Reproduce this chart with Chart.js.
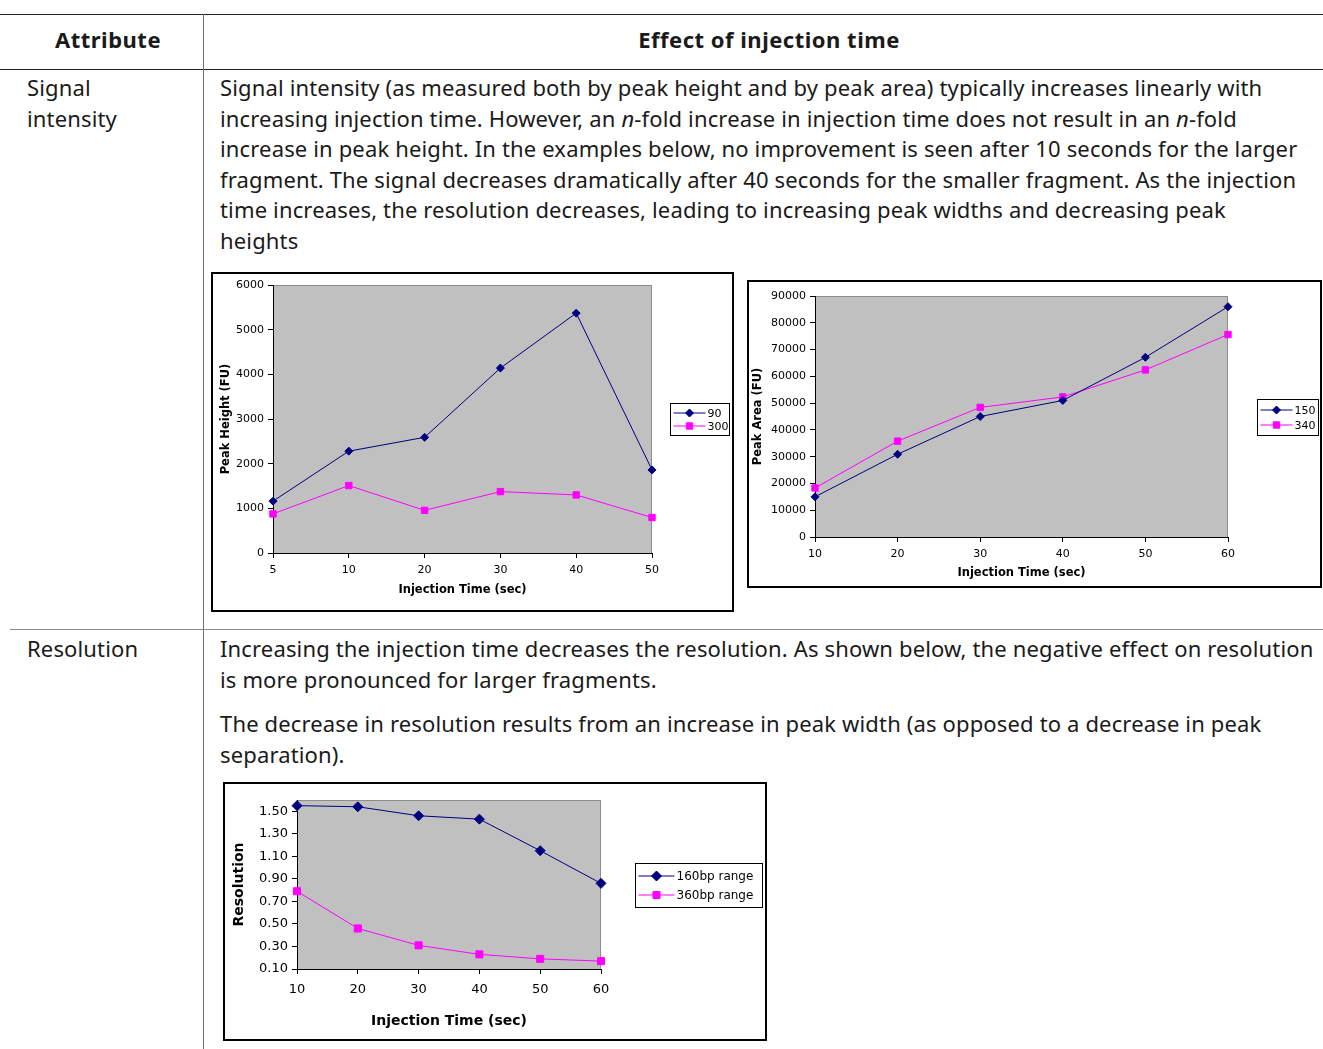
<!DOCTYPE html>
<html>
<head>
<meta charset="utf-8">
<script src="https://cdn.jsdelivr.net/npm/chart.js@4.4.1/dist/chart.umd.min.js"></script>
<style>
  body { margin: 0; width: 1323px; height: 1049px; background: #fff; overflow: hidden; position: relative;
         font-family: "Noto Sans", Roboto, sans-serif; color: #1a1a1a; }
  .hline { position: absolute; height: 1px; }
  .vline { position: absolute; width: 1px; background: #707070; }
  .txt { position: absolute; font-size: 22px; line-height: 30.6px; letter-spacing: 0.15px; white-space: nowrap; }
  .head { position: absolute; top: 24px; font-size: 22px; font-weight: bold; text-align: center; white-space: nowrap; letter-spacing: 0.5px; }
  .box { position: absolute; border: 2px solid #000; background: #fff; }
  .box canvas { display: block; }
</style>
</head>
<body>

<!-- table rules -->
<div class="hline" style="left:0;top:14px;width:1323px;background:#222"></div>
<div class="hline" style="left:0;top:69px;width:1323px;background:#222"></div>
<div class="hline" style="left:10px;top:629px;width:1313px;background:#8a8a8a"></div>
<div class="vline" style="left:203px;top:14px;height:1035px"></div>

<div class="head" style="left:8px;width:200px">Attribute</div>
<div class="head" style="left:215px;width:1108px">Effect of injection time</div>

<div class="txt" style="left:27px;top:72px">Signal<br>intensity</div>
<div class="txt" style="left:220px;top:72px">
Signal intensity (as measured both by peak height and by peak area) typically increases linearly with<br>
increasing injection time. However, an <i>n</i>-fold increase in injection time does not result in an <i>n</i>-fold<br>
increase in peak height. In the examples below, no improvement is seen after 10 seconds for the larger<br>
fragment. The signal decreases dramatically after 40 seconds for the smaller fragment. As the injection<br>
time increases, the resolution decreases, leading to increasing peak widths and decreasing peak<br>
heights</div>

<div class="txt" style="left:27px;top:633px">Resolution</div>
<div class="txt" style="left:220px;top:633px">
Increasing the injection time decreases the resolution. As shown below, the negative effect on resolution<br>
is more pronounced for larger fragments.</div>
<div class="txt" style="left:220px;top:708px">
The decrease in resolution results from an increase in peak width (as opposed to a decrease in peak<br>
separation).</div>

<div class="box" style="left:211px;top:272px"><canvas id="heightChart" width="519" height="336"></canvas></div>
<div class="box" style="left:747px;top:280px"><canvas id="areaChart" width="571" height="304"></canvas></div>
<div class="box" style="left:223px;top:782px"><canvas id="resChart" width="540" height="255"></canvas></div>

<script>
//----------------- chart data -------------------------

const heightTimes = ['5', '10', '20', '30', '40', '50'];
const height90 = [1160, 2280, 2590, 4140, 5370, 1860];
const height300 = [875, 1510, 955, 1375, 1300, 795];

const areaTimes = ['10', '20', '30', '40', '50', '60'];
const area150 = [15000, 30900, 45000, 51000, 67100, 86000];
const area340 = [18300, 35800, 48400, 52300, 62400, 75600];

const resTimes = ['10', '20', '30', '40', '50', '60'];
const res160 = [1.55, 1.54, 1.46, 1.43, 1.15, 0.86];
const res360 = [0.79, 0.46, 0.31, 0.23, 0.19, 0.17];
const resTicks = [0.10, 0.30, 0.50, 0.70, 0.90, 1.10, 1.30, 1.50];

const NAVY = '#000080';
const PINK = '#ff00ff';
const FONT = '"DejaVu Sans", Verdana, sans-serif';

// ----------- grey plot area + boxed excel-style legend -----------
const excelLook = {
    id: 'excelLook',
    beforeDraw(chart) {
        const { ctx, chartArea: a } = chart;
        ctx.save();
        ctx.fillStyle = '#c0c0c0';
        ctx.fillRect(a.left, a.top, a.width, a.height);
        ctx.strokeStyle = '#8c8c8c';
        ctx.lineWidth = 1;
        ctx.strokeRect(a.left + 0.5, a.top + 0.5, a.width - 1, a.height);
        ctx.restore();
    },
    afterDraw(chart, args, opts) {
        const { ctx, chartArea: a } = chart;
        const sets = chart.data.datasets;
        const x0 = Math.round(a.right + opts.gap) + 0.5;
        const h = opts.rowHeight * sets.length + 6;
        const y0 = Math.round((a.top + a.bottom) / 2 - h / 2) + 0.5;
        ctx.save();
        ctx.fillStyle = '#fff';
        ctx.fillRect(x0, y0, opts.width, h);
        ctx.strokeStyle = '#000';
        ctx.lineWidth = 1;
        ctx.strokeRect(x0, y0, opts.width, h);
        ctx.font = opts.fontSize + 'px ' + FONT;
        ctx.textBaseline = 'middle';
        sets.forEach((ds, i) => {
            const y = y0 + 3 + opts.rowHeight * (i + 0.5);
            ctx.strokeStyle = ds.borderColor;
            ctx.beginPath();
            ctx.moveTo(x0 + 3, y);
            ctx.lineTo(x0 + 3 + opts.lineLen, y);
            ctx.stroke();
            ctx.fillStyle = ds.pointBackgroundColor;
            ctx.strokeStyle = ds.pointBorderColor;
            Chart.helpers.drawPoint(ctx, { pointStyle: ds.pointStyle, radius: ds.pointRadius, rotation: 0, borderWidth: 1 },
                x0 + 3 + opts.lineLen / 2, y);
            ctx.fillStyle = '#000';
            ctx.fillText(ds.label, x0 + 5 + opts.lineLen, y + 1);
        });
        ctx.restore();
    }
};

function series(label, values, color, style, radius) {
    return {
        label: label,
        data: values,
        borderColor: color,
        borderWidth: 1,
        pointStyle: style,
        pointRadius: radius,
        pointBackgroundColor: color,
        pointBorderColor: color,
        pointBorderWidth: 1,
        tension: 0,
        clip: false
    };
}

function makeChart(id, labels, sets, yOpts, look) {
    const tickFont = { family: FONT, size: look.tickSize };
    const titleFont = { family: FONT, size: look.titleSize, weight: 'bold' };
    return new Chart(document.getElementById(id).getContext('2d'), {
        type: 'line',
        data: { labels: labels, datasets: sets },
        plugins: [excelLook],
        options: {
            responsive: false,
            animation: false,
            events: [],
            layout: { padding: { left: 0, top: look.top, right: look.right, bottom: 0 } },
            plugins: {
                legend: { display: false },
                tooltip: { enabled: false },
                excelLook: look.legend
            },
            scales: {
                x: {
                    offset: false,
                    grid: { display: true, drawOnChartArea: false, drawTicks: true, tickLength: 5, tickColor: '#000', offset: false },
                    border: { display: true, color: '#000' },
                    ticks: { color: '#000', font: tickFont, padding: look.xTickPad, maxRotation: 0, autoSkip: false },
                    title: { display: true, text: 'Injection Time (sec)', color: '#000', font: titleFont,
                             padding: { top: 0, bottom: look.xTitlePad } },
                    afterFit(scale) { scale.height = look.xHeight; }
                },
                y: Object.assign({
                    grid: { display: true, drawOnChartArea: false, drawTicks: true, tickLength: 5, tickColor: '#000' },
                    border: { display: true, color: '#000' },
                    title: { display: true, text: look.yTitle, color: '#000', font: titleFont,
                             padding: { top: look.yTitlePad, bottom: 0 } },
                    afterFit(scale) { scale.width = look.yWidth; }
                }, yOpts)
            }
        }
    });
}

makeChart('heightChart', heightTimes, [
    series('90', height90, NAVY, 'rectRot', 4),
    series('300', height300, PINK, 'rect', 4.5)
], {
    min: 0, max: 6000,
    ticks: { stepSize: 1000, color: '#000', font: { family: FONT, size: 11 }, padding: 4, callback: v => String(v) }
}, {
    top: 11, right: 80, yWidth: 60, xHeight: 57, tickSize: 11, titleSize: 11.5,
    xTickPad: 6, xTitlePad: 13, yTitlePad: 6, yTitle: 'Peak Height (FU)',
    legend: { gap: 18, width: 59, rowHeight: 13, lineLen: 32, fontSize: 11 }
});

makeChart('areaChart', areaTimes, [
    series('150', area150, NAVY, 'rectRot', 4),
    series('340', area340, PINK, 'rect', 4.5)
], {
    min: 0, max: 90000,
    ticks: { stepSize: 10000, color: '#000', font: { family: FONT, size: 11 }, padding: 4, callback: v => String(v) }
}, {
    top: 14, right: 92, yWidth: 66, xHeight: 49, tickSize: 11, titleSize: 11.5,
    xTickPad: 6, xTitlePad: 6, yTitlePad: 2, yTitle: 'Peak Area (FU)',
    legend: { gap: 29, width: 61, rowHeight: 15, lineLen: 32, fontSize: 11 }
});

makeChart('resChart', resTimes, [
    series('160bp range', res160, NAVY, 'rectRot', 5),
    series('360bp range', res360, PINK, 'rect', 5)
], {
    min: 0.1, max: 1.6,
    afterBuildTicks(scale) { scale.ticks = resTicks.map(v => ({ value: v })); },
    ticks: { color: '#000', font: { family: FONT, size: 13 }, padding: 4, callback: v => v.toFixed(2) }
}, {
    top: 16, right: 164, yWidth: 72, xHeight: 70, tickSize: 13, titleSize: 14,
    xTickPad: 8, xTitlePad: 9, yTitlePad: 6, yTitle: 'Resolution',
    legend: { gap: 34, width: 127, rowHeight: 19, lineLen: 36, fontSize: 12 }
});
</script>
</body>
</html>
